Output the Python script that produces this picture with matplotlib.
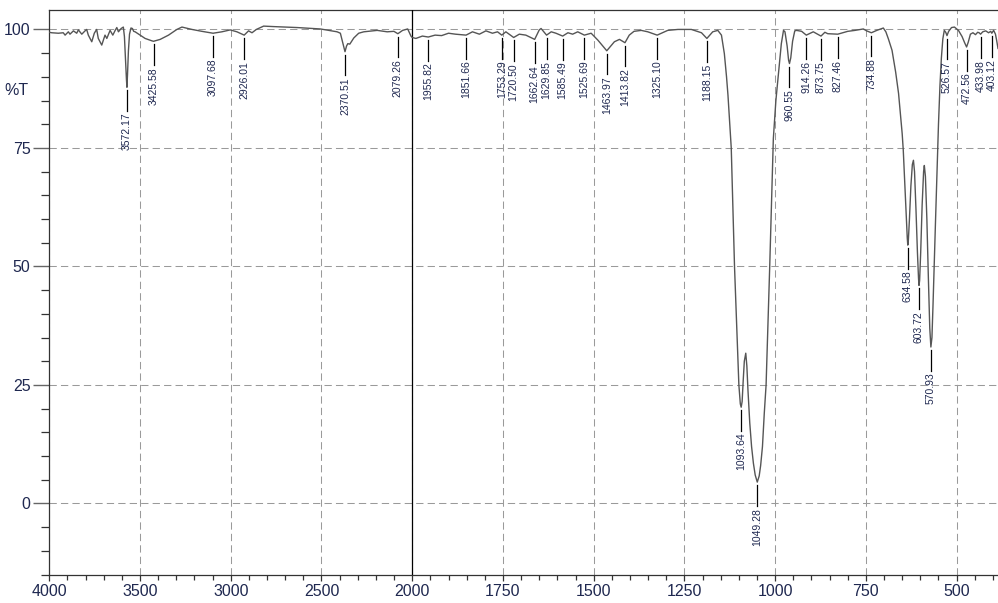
import matplotlib
matplotlib.use('Agg')
import matplotlib.pyplot as plt
import numpy as np
from matplotlib.ticker import FixedLocator, MultipleLocator

plt.rcParams['font.family'] = ['Liberation Sans Narrow', 'Liberation Sans', 'DejaVu Sans']

# 波数 (cm-1) と透過率 (%T)
wn = [4000, 3987, 3950, 3923, 3913, 3895, 3886, 3867, 3849, 3840, 3821, 3803, 3794,
      3785, 3766, 3752, 3739, 3730, 3711, 3693, 3683, 3665, 3650, 3637, 3628, 3619,
      3604, 3592, 3586, 3580, 3575, 3572.17, 3569, 3564, 3558, 3550, 3542, 3535, 3527,
      3499, 3472, 3435, 3425.58, 3389, 3343, 3297, 3269, 3214, 3159, 3097.68, 3049,
      3003, 2966, 2926.01, 2902, 2883, 2859, 2819, 2764, 2635, 2506, 2414, 2396, 2385,
      2370.51, 2362, 2355, 2344, 2322, 2295, 2267, 2193, 2138, 2101, 2079.26, 2053,
      2025, 2007, 2000, 1990, 1972, 1955.82, 1937, 1919, 1900, 1881, 1851.66, 1834,
      1815, 1797, 1779, 1765, 1753.29, 1742, 1720.50, 1705, 1687, 1662.64, 1650, 1645,
      1629.85, 1617, 1604, 1585.49, 1571, 1558, 1544, 1525.69, 1507, 1488, 1463.97,
      1443, 1429, 1413.82, 1402, 1389, 1369, 1351, 1325.10, 1296, 1268, 1231, 1203,
      1188.15, 1172, 1158, 1148, 1140, 1134, 1130, 1121, 1112, 1100, 1098, 1096,
      1093.64, 1091, 1088, 1085, 1081, 1078, 1075, 1070, 1065, 1060, 1055, 1049.28,
      1044, 1040, 1035, 1030, 1025, 1015, 1005, 998, 990, 983, 977, 973, 967, 963,
      960.55, 957, 952, 946, 941, 927, 914.26, 895, 873.75, 863, 855, 827.46, 800, 780,
      757, 748, 734.88, 720, 702, 695, 688, 678, 668, 660, 656, 650, 647, 642, 638, 636,
      634.58, 633, 630, 626, 622, 619, 616, 612, 608, 605, 603.72, 602, 599, 595, 591,
      589, 586, 582, 578, 574, 570.93, 568, 565, 562, 558, 554, 550, 546, 542, 538, 534,
      530, 526.57, 522, 514, 506, 495, 485, 478, 472.56, 468, 462, 455, 448, 442, 438,
      433.98, 428, 420, 412, 406, 403.12, 398, 393, 390, 386]
tr = [99.4, 99.3, 99.2, 99.3, 98.8, 99.5, 99.0, 99.7, 99.2, 99.9, 99.0, 99.7, 100.0,
      98.8, 97.4, 99.2, 100.0, 98.1, 96.7, 98.8, 98.1, 99.8, 98.8, 99.8, 100.4, 99.5,
      100.2, 100.5, 98.5, 93.5, 89.5, 87.8, 90.5, 95.5, 99.0, 100.3, 100.2, 99.6, 99.5,
      98.8, 98.1, 97.6, 97.5, 97.9, 98.8, 100.0, 100.5, 100.0, 99.6, 99.2, 99.5,
      99.9, 99.5, 98.8, 99.7, 99.3, 100.0, 100.7, 100.6, 100.4, 100.1, 99.5, 99.2, 97.5,
      95.3, 96.5, 97.0, 96.9, 98.2, 99.2, 99.5, 99.8, 99.5, 99.6, 99.1, 99.8,
      100.1, 98.6, 98.3, 98.1, 98.6, 98.4, 98.8, 98.7, 99.2, 99.0, 98.8, 99.5,
      99.0, 99.7, 99.2, 99.5, 98.8, 99.5, 98.3, 99.0, 98.8, 97.9, 99.9, 100.2,
      98.8, 99.5, 99.2, 98.6, 99.3, 99.0, 99.5, 98.8, 99.2, 97.7, 95.5,
      97.4, 97.9, 97.2, 98.8, 99.6, 99.8, 99.5, 98.8, 99.8, 100.0, 100.0, 99.3,
      98.1, 99.5, 99.8, 98.8, 94.9, 90.0, 86.1, 75.0, 50.0, 25.0, 23.0, 21.0,
      20.3, 21.5, 26.0, 30.0, 31.7, 29.0, 24.0, 17.0, 12.0, 8.5, 6.0, 4.5,
      5.8, 8.0, 12.0, 19.0, 25.0, 50.0, 77.0, 85.0, 91.4, 97.0, 99.8, 99.5, 96.5, 93.5,
      92.8, 94.0, 97.5, 99.7, 99.8, 99.6, 98.8, 99.5, 98.6, 99.4, 99.1, 99.0, 99.6, 99.8,
      100.1, 99.7, 99.3, 99.8, 100.3, 99.5, 98.0, 95.6, 91.0, 86.5, 83.0, 78.0, 74.5, 66.0, 59.0, 56.0,
      54.5, 55.5, 60.0, 67.0, 71.5, 72.4, 70.0, 62.0, 53.0, 47.5, 46.0, 47.0, 53.0, 63.0, 70.0,
      71.3, 69.0, 60.0, 48.0, 37.0, 33.0, 35.0, 42.0, 50.0, 60.0, 70.0, 80.0, 88.0, 94.0, 98.0, 99.8,
      99.4, 98.7, 99.6, 100.4, 100.5, 99.8, 98.5, 97.2, 96.3, 97.3, 99.0, 99.3, 98.9, 99.4, 99.3,
      99.0, 99.5, 99.7, 99.3, 99.6, 99.2, 99.8, 99.0, 97.8, 96.0]

# ピーク位置
peaks = [3572.17, 3425.58, 3097.68, 2926.01, 2370.51, 2079.26, 1955.82, 1851.66,
         1753.29, 1720.50, 1662.64, 1629.85, 1585.49, 1525.69, 1463.97, 1413.82,
         1325.10, 1188.15, 1093.64, 1049.28, 960.55, 914.26, 873.75, 827.46,
         734.88, 634.58, 603.72, 570.93, 526.57, 472.56, 433.98, 403.12]

x_major = [4000, 3500, 3000, 2500, 2000, 1750, 1500, 1250, 1000, 750, 500]
y_major = [0, 25, 50, 75, 100]

label_color = '#1f2850'


# 2000 cm-1 より低波数側を 2 倍に拡大する軸
def fwd(w):
    w = np.asarray(w, dtype=float)
    return np.where(w >= 2000, w, 2 * w - 2000)


def inv(u):
    u = np.asarray(u, dtype=float)
    return np.where(u >= 2000, u, (u + 2000) / 2)


fig = plt.figure(figsize=(9.98, 6.03), dpi=100)
ax = fig.add_axes([0.0494, 0.0464, 0.9506, 0.9378])
ax.set_xscale('function', functions=(fwd, inv))
ax.set_xlim(4000, 386)
ax.set_ylim(-15.1, 104.2)

# 目盛り
x_minor = [v for v in list(range(3900, 2000, -100)) + list(range(1950, 386, -50))
           if v not in x_major]
ax.xaxis.set_major_locator(FixedLocator(x_major))
ax.xaxis.set_minor_locator(FixedLocator(x_minor))
ax.set_xticklabels([str(v) for v in x_major])
ax.yaxis.set_major_locator(FixedLocator(y_major))
ax.yaxis.set_minor_locator(MultipleLocator(5))

ax.tick_params(axis='both', which='major', labelsize=11.5, labelcolor=label_color)
ax.tick_params(axis='y', which='major', length=11.5, width=1.0, color='#666666', pad=2)
ax.tick_params(axis='y', which='minor', length=5.8, width=0.9, color='#333333')
ax.tick_params(axis='x', which='major', length=4.5, width=0.9, color='#333333', pad=2)
ax.tick_params(axis='x', which='minor', length=3.5, width=0.9, color='#333333')

# グリッド
ax.grid(True, which='major', color='#9a9a9a', linestyle=(0, (7, 4)), linewidth=0.75)
ax.axvline(2000, color='black', linewidth=0.9, zorder=3)

for side in ['left', 'bottom', 'top']:
    ax.spines[side].set_color('#333333')
    ax.spines[side].set_linewidth(0.9)
ax.spines['right'].set_visible(False)

# スペクトル
ax.plot(wn, tr, color='#555555', linewidth=1.0, zorder=4)

# ピークラベル
t_at = dict(zip(wn, tr))
for p in peaks:
    t = t_at[p]
    ax.plot([p, p], [t - 0.63, t - 5.0], color='black', linewidth=0.9, zorder=5)
    ax.text(p, t - 5.4, f'{p:.2f}', rotation=90, ha='center', va='top',
            fontsize=7.5, color=label_color, family=['Liberation Sans', 'DejaVu Sans'],
            zorder=5)

ax.text(-0.0214, 87.2, '%T', transform=ax.get_yaxis_transform(), ha='right',
        va='center', fontsize=11.5, color=label_color)

fig.savefig('out.png', dpi=100)
